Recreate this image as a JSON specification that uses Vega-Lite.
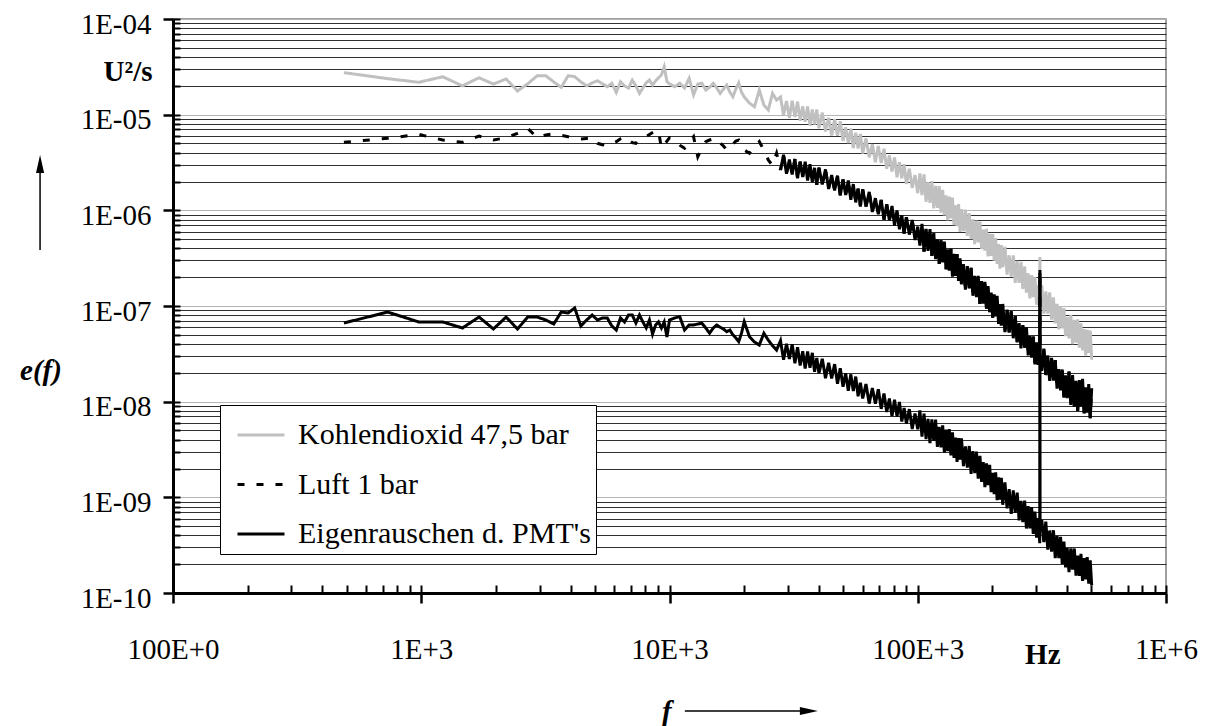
{
  "$schema": "https://vega.github.io/schema/vega-lite/v6.json",
  "width": 993,
  "height": 574,
  "autosize": {"type": "none"},
  "padding": {"left": 173, "top": 19, "right": 44, "bottom": 133},
  "background": "white",
  "config": {"font": "Liberation Serif", "view": {"stroke": "#808080", "strokeWidth": 1.5}},
  "datasets": {
    "spec": [
      {"f":488,"k":2.75e-5,"l":5.14e-6,"e":6.64e-8},
      {"f":732,"k":2.38e-5,"l":5.66e-6,"e":8.65e-8},
      {"f":977,"k":2.18e-5,"l":6.23e-6,"e":6.81e-8},
      {"f":1221,"k":2.49e-5,"l":5.43e-6,"e":6.81e-8},
      {"f":1465,"k":2.0e-5,"l":5.14e-6,"e":5.89e-8},
      {"f":1709,"k":2.43e-5,"l":5.98e-6,"e":7.67e-8},
      {"f":1953,"k":2.09e-5,"l":5.43e-6,"e":5.75e-8},
      {"f":2197,"k":2.36e-5,"l":5.74e-6,"e":7.67e-8},
      {"f":2441,"k":1.77e-5,"l":6.38e-6,"e":5.75e-8},
      {"f":2686,"k":2.1e-5,"l":7.19e-6,"e":7.67e-8},
      {"f":2930,"k":2.55e-5,"l":5.74e-6,"e":7.67e-8},
      {"f":3174,"k":2.55e-5,"l":6.13e-6,"e":7.14e-8},
      {"f":3418,"k":2.2e-5,"l":6.3e-6,"e":6.48e-8},
      {"f":3662,"k":1.93e-5,"l":6.1e-6,"e":8.65e-8},
      {"f":3906,"k":2.55e-5,"l":5.89e-6,"e":8.46e-8},
      {"f":4150,"k":2.5e-5,"l":5.7e-6,"e":9.53e-8},
      {"f":4395,"k":2.2e-5,"l":5.57e-6,"e":6.18e-8},
      {"f":4639,"k":2.0e-5,"l":5.65e-6,"e":7.14e-8},
      {"f":4883,"k":2.15e-5,"l":5.74e-6,"e":8.05e-8},
      {"f":5127,"k":2.26e-5,"l":5.02e-6,"e":7.14e-8},
      {"f":5371,"k":2.1e-5,"l":4.85e-6,"e":7.5e-8},
      {"f":5615,"k":1.96e-5,"l":4.71e-6,"e":7.5e-8},
      {"f":5859,"k":2.13e-5,"l":5.0e-6,"e":6.18e-8},
      {"f":6104,"k":1.71e-5,"l":5.22e-6,"e":5.61e-8},
      {"f":6348,"k":2.21e-5,"l":5.6e-6,"e":7.5e-8},
      {"f":6592,"k":2.0e-5,"l":5.89e-6,"e":6.81e-8},
      {"f":6836,"k":1.89e-5,"l":5.4e-6,"e":8.05e-8},
      {"f":7080,"k":2.3e-5,"l":5.1e-6,"e":8.05e-8},
      {"f":7324,"k":2.0e-5,"l":5.02e-6,"e":6.64e-8},
      {"f":7568,"k":1.67e-5,"l":5.5e-6,"e":8.05e-8},
      {"f":7813,"k":1.9e-5,"l":5.66e-6,"e":6.81e-8},
      {"f":8057,"k":2.16e-5,"l":5.9e-6,"e":5.89e-8},
      {"f":8301,"k":2.3e-5,"l":6.2e-6,"e":7.14e-8},
      {"f":8545,"k":2.04e-5,"l":6.5e-6,"e":5.09e-8},
      {"f":8789,"k":2.25e-5,"l":6.79e-6,"e":6.33e-8},
      {"f":9033,"k":2.43e-5,"l":6.79e-6,"e":6.81e-8},
      {"f":9277,"k":2.6e-5,"l":4.45e-6,"e":5.89e-8},
      {"f":9521,"k":3.17e-5,"l":4.8e-6,"e":6.81e-8},
      {"f":9766,"k":2.21e-5,"l":5.3e-6,"e":4.74e-8},
      {"f":10000,"k":2.1e-5,"l":5.74e-6,"e":7.14e-8},
      {"f":10500,"k":1.96e-5,"l":5.5e-6,"e":7.5e-8},
      {"f":11000,"k":2.13e-5,"l":4.8e-6,"e":7.73e-8},
      {"f":11500,"k":1.9e-5,"l":4.45e-6,"e":5.61e-8},
      {"f":12000,"k":2.4e-5,"l":5.2e-6,"e":6.33e-8},
      {"f":12500,"k":1.61e-5,"l":5.89e-6,"e":6.33e-8},
      {"f":13000,"k":2.09e-5,"l":3.64e-6,"e":6.48e-8},
      {"f":13500,"k":2.13e-5,"l":4.5e-6,"e":6.6e-8},
      {"f":14000,"k":1.81e-5,"l":5.22e-6,"e":5.89e-8},
      {"f":14500,"k":1.93e-5,"l":5.43e-6,"e":5.19e-8},
      {"f":15000,"k":2.13e-5,"l":5.57e-6,"e":5.89e-8},
      {"f":15500,"k":1.9e-5,"l":5.66e-6,"e":6.33e-8},
      {"f":16000,"k":1.67e-5,"l":5.05e-6,"e":6.0e-8},
      {"f":16500,"k":1.85e-5,"l":4.71e-6,"e":5.75e-8},
      {"f":17000,"k":2.04e-5,"l":4.27e-6,"e":5.39e-8},
      {"f":17500,"k":1.72e-5,"l":4.37e-6,"e":5.61e-8},
      {"f":18000,"k":1.54e-5,"l":4.9e-6,"e":5.0e-8},
      {"f":18500,"k":1.85e-5,"l":5.3e-6,"e":4.64e-8},
      {"f":19000,"k":2.15e-5,"l":5.43e-6,"e":4.24e-8},
      {"f":19500,"k":1.72e-5,"l":4.8e-6,"e":5.2e-8},
      {"f":20000,"k":1.53e-5,"l":4.27e-6,"e":6.85e-8},
      {"f":21000,"k":1.32e-5,"l":3.95e-6,"e":4.77e-8},
      {"f":22000,"k":1.21e-5,"l":4.6e-6,"e":4.2e-8},
      {"f":23000,"k":1.81e-5,"l":5.22e-6,"e":3.91e-8},
      {"f":24000,"k":1.26e-5,"l":4.27e-6,"e":5.19e-8},
      {"f":25000,"k":1.12e-5,"l":3.36e-6,"e":4.4e-8},
      {"f":26000,"k":1.67e-5,"l":2.95e-6,"e":3.85e-8},
      {"f":27000,"k":1.42e-5,"l":3.95e-6,"e":3.47e-8},
      {"f":28000,"k":1.53e-5,"l":2.64e-6,"e":4.34e-8},
      {"f":28800,"k":9.91e-6,"l":3.81e-6,"e":2.74e-8},
      {"f":29600,"k":1.39e-5,"l":2.41e-6,"e":4.02e-8},
      {"f":30400,"k":9.25e-6,"l":3.40e-6,"e":2.79e-8},
      {"f":31200,"k":1.40e-5,"l":2.37e-6,"e":3.99e-8},
      {"f":32000,"k":9.44e-6,"l":3.43e-6,"e":2.52e-8},
      {"f":32800,"k":1.37e-5,"l":2.18e-6,"e":3.71e-8},
      {"f":33600,"k":8.65e-6,"l":3.22e-6,"e":2.39e-8},
      {"f":34400,"k":1.22e-5,"l":2.23e-6,"e":3.36e-8},
      {"f":35200,"k":8.45e-6,"l":3.23e-6,"e":2.22e-8},
      {"f":36000,"k":1.22e-5,"l":2.05e-6,"e":3.34e-8},
      {"f":36800,"k":7.70e-6,"l":3.03e-6,"e":2.26e-8},
      {"f":37600,"k":1.13e-5,"l":1.97e-6,"e":3.24e-8},
      {"f":38400,"k":7.90e-6,"l":2.78e-6,"e":2.05e-8},
      {"f":39200,"k":1.13e-5,"l":1.85e-6,"e":2.87e-8},
      {"f":40000,"k":7.21e-6,"l":2.79e-6,"e":1.98e-8},
      {"f":41250,"k":1.05e-5,"l":1.88e-6,"e":2.81e-8},
      {"f":42500,"k":6.68e-6,"l":2.68e-6,"e":1.76e-8},
      {"f":43750,"k":9.26e-6,"l":1.67e-6,"e":2.55e-8},
      {"f":45000,"k":6.05e-6,"l":2.34e-6,"e":1.75e-8},
      {"f":46250,"k":8.98e-6,"l":1.61e-6,"e":2.47e-8},
      {"f":47500,"k":6.01e-6,"l":2.29e-6,"e":1.54e-8},
      {"f":48750,"k":8.52e-6,"l":1.44e-6,"e":2.24e-8},
      {"f":50000,"k":5.32e-6,"l":2.10e-6,"e":1.43e-8},
      {"f":51250,"k":7.37e-6,"l":1.45e-6,"e":1.98e-8},
      {"f":52500,"k":5.05e-6,"l":2.05e-6,"e":1.30e-8},
      {"f":53750,"k":7.15e-6,"l":1.29e-6,"e":1.93e-8},
      {"f":55000,"k":4.47e-6,"l":1.88e-6,"e":1.29e-8},
      {"f":56250,"k":6.47e-6,"l":1.21e-6,"e":1.83e-8},
      {"f":57500,"k":4.43e-6,"l":1.68e-6,"e":1.14e-8},
      {"f":58750,"k":6.28e-6,"l":1.10e-6,"e":1.58e-8},
      {"f":60000,"k":3.93e-6,"l":1.66e-6,"e":1.08e-8},
      {"f":61875,"k":5.65e-6,"l":1.10e-6,"e":1.53e-8},
      {"f":63750,"k":3.58e-6,"l":1.56e-6,"e":9.54e-9},
      {"f":65625,"k":4.92e-6,"l":9.63e-7,"e":1.39e-8},
      {"f":67500,"k":3.19e-6,"l":1.34e-6,"e":9.54e-9},
      {"f":69375,"k":4.71e-6,"l":9.09e-7,"e":1.35e-8},
      {"f":71250,"k":3.12e-6,"l":1.28e-6,"e":8.41e-9},
      {"f":73125,"k":4.40e-6,"l":7.99e-7,"e":1.22e-8},
      {"f":75000,"k":2.72e-6,"l":1.16e-6,"e":7.80e-9},
      {"f":76875,"k":3.75e-6,"l":7.86e-7,"e":1.08e-8},
      {"f":78750,"k":2.54e-6,"l":1.11e-6,"e":7.06e-9},
      {"f":80625,"k":3.57e-6,"l":6.92e-7,"e":1.05e-8},
      {"f":82500,"k":2.22e-6,"l":1.0e-6,"e":7.01e-9},
      {"f":84375,"k":3.19e-6,"l":6.35e-7,"e":9.94e-9},
      {"f":86250,"k":2.16e-6,"l":8.77e-7,"e":6.21e-9},
      {"f":88125,"k":3.04e-6,"l":5.71e-7,"e":8.60e-9},
      {"f":90000,"k":1.89e-6,"l":8.46e-7,"e":5.89e-9},
      {"f":92500,"k":2.72e-6,"l":5.61e-7,"e":8.35e-9},
      {"f":95000,"k":1.71e-6,"l":7.92e-7,"e":5.19e-9},
      {"f":97500,"k":2.34e-6,"l":4.90e-7,"e":7.52e-9},
      {"f":100000,"k":1.51e-6,"l":6.75e-7,"e":5.14e-9},
      {"f":102000,"k":2.43e-6,"l":4.29e-7,"e":8.12e-9},
      {"f":104000,"k":1.44e-6,"l":7.22e-7,"e":4.31e-9},
      {"f":106000,"k":2.38e-6,"l":3.71e-7,"e":7.49e-9},
      {"f":108000,"k":1.23e-6,"l":6.39e-7,"e":4.07e-9},
      {"f":110000,"k":1.97e-6,"l":3.77e-7,"e":6.61e-9},
      {"f":112000,"k":1.20e-6,"l":6.36e-7,"e":3.68e-9},
      {"f":114000,"k":2.02e-6,"l":3.34e-7,"e":6.53e-9},
      {"f":116000,"k":1.05e-6,"l":5.76e-7,"e":3.90e-9},
      {"f":118000,"k":1.80e-6,"l":3.09e-7,"e":6.48e-9},
      {"f":120000,"k":1.06e-6,"l":4.98e-7,"e":3.36e-9},
      {"f":122000,"k":1.79e-6,"l":2.75e-7,"e":5.45e-9},
      {"f":124000,"k":9.45e-7,"l":4.84e-7,"e":3.33e-9},
      {"f":126000,"k":1.64e-6,"l":2.85e-7,"e":5.65e-9},
      {"f":128000,"k":8.84e-7,"l":4.70e-7,"e":2.94e-9},
      {"f":130000,"k":1.43e-6,"l":2.41e-7,"e":5.09e-9},
      {"f":132000,"k":7.86e-7,"l":3.88e-7,"e":3.04e-9},
      {"f":134000,"k":1.39e-6,"l":2.35e-7,"e":5.17e-9},
      {"f":136000,"k":8.24e-7,"l":3.95e-7,"e":2.75e-9},
      {"f":138000,"k":1.36e-6,"l":2.03e-7,"e":4.77e-9},
      {"f":140000,"k":7.01e-7,"l":3.50e-7,"e":2.59e-9},
      {"f":142000,"k":1.13e-6,"l":2.06e-7,"e":4.21e-9},
      {"f":144000,"k":6.84e-7,"l":3.48e-7,"e":2.35e-9},
      {"f":146000,"k":1.16e-6,"l":1.83e-7,"e":4.16e-9},
      {"f":148000,"k":5.95e-7,"l":3.15e-7,"e":2.48e-9},
      {"f":150000,"k":1.03e-6,"l":1.69e-7,"e":4.13e-9},
      {"f":152800,"k":6.07e-7,"l":2.72e-7,"e":2.12e-9},
      {"f":155600,"k":1.02e-6,"l":1.48e-7,"e":3.40e-9},
      {"f":158400,"k":5.39e-7,"l":2.61e-7,"e":2.05e-9},
      {"f":161200,"k":9.30e-7,"l":1.53e-7,"e":3.44e-9},
      {"f":164000,"k":5.0e-7,"l":2.51e-7,"e":1.76e-9},
      {"f":166800,"k":8.04e-7,"l":1.28e-7,"e":3.04e-9},
      {"f":169600,"k":4.44e-7,"l":2.06e-7,"e":1.79e-9},
      {"f":172400,"k":7.82e-7,"l":1.24e-7,"e":3.0e-9},
      {"f":175200,"k":4.62e-7,"l":2.07e-7,"e":1.57e-9},
      {"f":178000,"k":7.61e-7,"l":1.05e-7,"e":2.72e-9},
      {"f":180800,"k":3.92e-7,"l":1.82e-7,"e":1.45e-9},
      {"f":183600,"k":6.30e-7,"l":1.06e-7,"e":2.34e-9},
      {"f":186400,"k":3.80e-7,"l":1.79e-7,"e":1.28e-9},
      {"f":189200,"k":6.40e-7,"l":9.36e-8,"e":2.27e-9},
      {"f":192000,"k":3.29e-7,"l":1.61e-7,"e":1.34e-9},
      {"f":194800,"k":5.68e-7,"l":8.60e-8,"e":2.19e-9},
      {"f":197600,"k":3.35e-7,"l":1.38e-7,"e":1.13e-9},
      {"f":200400,"k":5.65e-7,"l":7.55e-8,"e":1.80e-9},
      {"f":203200,"k":2.97e-7,"l":1.32e-7,"e":1.08e-9},
      {"f":206000,"k":5.14e-7,"l":7.77e-8,"e":1.83e-9},
      {"f":208800,"k":2.75e-7,"l":1.28e-7,"e":9.36e-10},
      {"f":211600,"k":4.44e-7,"l":6.51e-8,"e":1.62e-9},
      {"f":214400,"k":2.45e-7,"l":1.04e-7,"e":9.45e-10},
      {"f":217200,"k":4.32e-7,"l":6.26e-8,"e":1.60e-9},
      {"f":220000,"k":2.55e-7,"l":1.05e-7,"e":8.36e-10},
      {"f":224500,"k":4.16e-7,"l":5.34e-8,"e":1.43e-9},
      {"f":229000,"k":2.13e-7,"l":9.11e-8,"e":7.66e-10},
      {"f":233500,"k":3.39e-7,"l":5.30e-8,"e":1.22e-9},
      {"f":238000,"k":2.03e-7,"l":8.84e-8,"e":6.71e-10},
      {"f":242500,"k":3.39e-7,"l":4.60e-8,"e":1.18e-9},
      {"f":247000,"k":1.74e-7,"l":7.84e-8,"e":6.88e-10},
      {"f":251500,"k":2.96e-7,"l":4.17e-8,"e":1.12e-9},
      {"f":256000,"k":1.74e-7,"l":6.63e-8,"e":5.75e-10},
      {"f":260500,"k":2.90e-7,"l":3.61e-8,"e":9.20e-10},
      {"f":265000,"k":1.51e-7,"l":6.30e-8,"e":5.52e-10},
      {"f":269500,"k":2.59e-7,"l":3.68e-8,"e":9.23e-10},
      {"f":274000,"k":1.38e-7,"l":5.98e-8,"e":4.72e-10},
      {"f":278500,"k":2.20e-7,"l":3.04e-8,"e":8.07e-10},
      {"f":283000,"k":1.20e-7,"l":4.84e-8,"e":4.74e-10},
      {"f":287500,"k":2.10e-7,"l":2.89e-8,"e":7.91e-10},
      {"f":292000,"k":1.24e-7,"l":4.82e-8,"e":4.14e-10},
      {"f":296500,"k":2.01e-7,"l":2.45e-8,"e":7.08e-10},
      {"f":301000,"k":1.03e-7,"l":4.16e-8,"e":3.79e-10},
      {"f":305500,"k":1.64e-7,"l":2.43e-8,"e":6.06e-10},
      {"f":310000,"k":9.82e-8,"l":4.05e-8,"e":3.32e-10},
      {"f":310500,"k":3.25e-7,"l":2.2e-7,"e":2.38e-7},
      {"f":311000,"k":1.41e-7,"l":2.59e-8,"e":5.13e-10},
      {"f":316000,"k":1.64e-7,"l":2.10e-8,"e":5.80e-10},
      {"f":322000,"k":8.34e-8,"l":3.59e-8,"e":3.40e-10},
      {"f":328000,"k":1.42e-7,"l":1.90e-8,"e":5.56e-10},
      {"f":334000,"k":8.33e-8,"l":3.03e-8,"e":2.84e-10},
      {"f":340000,"k":1.39e-7,"l":1.65e-8,"e":4.52e-10},
      {"f":346000,"k":7.22e-8,"l":2.87e-8,"e":2.71e-10},
      {"f":352000,"k":1.23e-7,"l":1.67e-8,"e":4.53e-10},
      {"f":358000,"k":6.57e-8,"l":2.72e-8,"e":2.31e-10},
      {"f":364000,"k":1.05e-7,"l":1.37e-8,"e":3.96e-10},
      {"f":370000,"k":5.71e-8,"l":2.19e-8,"e":2.32e-10},
      {"f":376000,"k":9.97e-8,"l":1.31e-8,"e":3.87e-10},
      {"f":382000,"k":5.83e-8,"l":2.17e-8,"e":2.02e-10},
      {"f":388000,"k":9.49e-8,"l":1.10e-8,"e":3.45e-10},
      {"f":394000,"k":4.84e-8,"l":1.88e-8,"e":1.85e-10},
      {"f":400000,"k":7.70e-8,"l":1.09e-8,"e":2.95e-10},
      {"f":406800,"k":4.60e-8,"l":2.06e-8,"e":1.65e-10},
      {"f":413600,"k":8.06e-8,"l":9.27e-9,"e":2.93e-10},
      {"f":420400,"k":3.99e-8,"l":1.90e-8,"e":1.75e-10},
      {"f":427200,"k":7.17e-8,"l":8.88e-9,"e":2.92e-10},
      {"f":434000,"k":4.13e-8,"l":1.65e-8,"e":1.52e-10},
      {"f":440800,"k":7.24e-8,"l":7.99e-9,"e":2.46e-10},
      {"f":447600,"k":3.67e-8,"l":1.68e-8,"e":1.51e-10},
      {"f":454400,"k":6.60e-8,"l":8.99e-9,"e":2.56e-10},
      {"f":461200,"k":3.44e-8,"l":1.73e-8,"e":1.34e-10},
      {"f":468000,"k":5.72e-8,"l":7.56e-9,"e":2.32e-10},
      {"f":474800,"k":3.05e-8,"l":1.41e-8,"e":1.39e-10},
      {"f":481600,"k":5.63e-8,"l":7.72e-9,"e":2.37e-10},
      {"f":488400,"k":3.24e-8,"l":1.53e-8,"e":1.25e-10},
      {"f":495200,"k":5.54e-8,"l":6.71e-9,"e":2.20e-10},
      {"f":502000,"k":2.74e-8,"l":1.38e-8,"e":1.20e-10}
    ]
  },
  "layer": [
    {
      "data": {"name": "spec"},
      "transform": [{"fold": ["k", "l", "e"], "as": ["series", "val"]}],
      "mark": {"type": "line", "strokeWidth": 3, "strokeCap": "butt"},
      "encoding": {
        "x": {
          "field": "f", "type": "quantitative",
          "scale": {"type": "log", "domain": [100, 1000000], "nice": false},
          "axis": {
            "orient": "bottom", "title": null,
            "values": [100, 1000, 10000, 100000, 1000000],
            "labelExpr": "datum.value < 500 ? '100E+0' : datum.value < 5000 ? '1E+3' : datum.value < 50000 ? '10E+3' : datum.value < 500000 ? '100E+3' : '1E+6'",
            "tickSize": 10, "tickWidth": 2.5, "tickColor": "black",
            "domainColor": "black", "domainWidth": 3,
            "labelFont": "Liberation Serif", "labelFontSize": 29, "labelColor": "black",
            "labelPadding": 46, "labelBaseline": "middle",
            "labelFlush": false, "labelOverlap": false, "grid": false
          }
        },
        "y": {
          "field": "val", "type": "quantitative",
          "scale": {"type": "log", "domain": [1e-10, 1e-4], "nice": false},
          "axis": {
            "orient": "left", "title": null,
            "values": [1e-10, 1e-9, 1e-8, 1e-7, 1e-6, 1e-5, 1e-4],
            "labelExpr": "'1E-' + format(-round(log(datum.value)/LN10), '02d')",
            "tickSize": 10, "tickWidth": 2.5, "tickColor": "black",
            "domainColor": "black", "domainWidth": 3,
            "labelFont": "Liberation Serif", "labelFontSize": 29, "labelColor": "black",
            "labelPadding": 12, "labelOffset": 5,
            "labelFlush": false, "labelOverlap": false, "grid": false
          }
        },
        "color": {
          "field": "series", "type": "nominal",
          "scale": {"domain": ["k", "l", "e"], "range": ["#c0c0c0", "#000000", "#000000"]},
          "legend": {
            "title": null, "orient": "none", "legendX": 47, "legendY": 386,
            "symbolType": "stroke", "symbolSize": 2209, "symbolStrokeWidth": 3,
            "symbolOffset": 11, "labelOffset": 12,
            "labelFont": "Liberation Serif", "labelFontSize": 30, "labelColor": "black", "labelLimit": 0,
            "fillColor": "white", "strokeColor": "black", "padding": 5, "rowPadding": 9.5,
            "labelExpr": "datum.label == 'k' ? 'Kohlendioxid 47,5 bar' : datum.label == 'l' ? 'Luft 1 bar' : \"Eigenrauschen d. PMT's\""
          }
        },
        "strokeDash": {
          "field": "series", "type": "nominal",
          "scale": {"domain": ["k", "l", "e"], "range": [[1, 0], [7, 12], [1, 0]]},
          "legend": {
            "title": null, "orient": "none", "legendX": 47, "legendY": 386,
            "symbolType": "stroke", "symbolSize": 2209, "symbolStrokeWidth": 3,
            "symbolOffset": 11, "labelOffset": 12,
            "labelFont": "Liberation Serif", "labelFontSize": 30, "labelColor": "black", "labelLimit": 0,
            "fillColor": "white", "strokeColor": "black", "padding": 5, "rowPadding": 9.5,
            "labelExpr": "datum.label == 'k' ? 'Kohlendioxid 47,5 bar' : datum.label == 'l' ? 'Luft 1 bar' : \"Eigenrauschen d. PMT's\""
          }
        }
      }
    },
    {
      "data": {"name": "spec"},
      "transform": [{"filter": "datum.f >= 28000"}],
      "mark": {"type": "line", "strokeWidth": 3, "strokeCap": "butt", "color": "black"},
      "encoding": {
        "x": {"field": "f", "type": "quantitative", "axis": null,
          "scale": {"type": "log", "domain": [100, 1000000], "nice": false}},
        "y": {"field": "l", "type": "quantitative", "axis": null,
          "scale": {"type": "log", "domain": [1e-10, 1e-4], "nice": false}}
      }
    },
    {
      "data": {"values": [
        {"f": 319000, "e": 2.25e-11, "t": "Hz"},
        {"f": 65.9, "e": 2.79e-5, "t": "U²/s"}
      ]},
      "mark": {"type": "text", "font": "Liberation Serif", "fontSize": 29, "fontWeight": "bold", "align": "center", "baseline": "middle", "color": "black"},
      "encoding": {
        "x": {
          "field": "f", "type": "quantitative",
          "scale": {"type": "log", "domain": [100, 1000000], "nice": false},
          "axis": {
            "orient": "bottom", "title": null, "labels": false, "domain": false, "grid": false,
            "values": [100,200,300,400,500,600,700,800,900,1000,2000,3000,4000,5000,6000,7000,8000,9000,10000,20000,30000,40000,50000,60000,70000,80000,90000,100000,200000,300000,400000,500000,600000,700000,800000,900000,1000000],
            "tickSize": -8, "tickWidth": 2, "tickColor": "black"
          }
        },
        "y": {
          "field": "e", "type": "quantitative",
          "scale": {"type": "log", "domain": [1e-10, 1e-4], "nice": false},
          "axis": {
            "orient": "left", "title": null, "labels": false, "domain": false,
            "values": [1e-10,2e-10,3e-10,4e-10,5e-10,6e-10,7e-10,8e-10,9e-10,1e-9,2e-9,3e-9,4e-9,5e-9,6e-9,7e-9,8e-9,9e-9,1e-8,2e-8,3e-8,4e-8,5e-8,6e-8,7e-8,8e-8,9e-8,1e-7,2e-7,3e-7,4e-7,5e-7,6e-7,7e-7,8e-7,9e-7,1e-6,2e-6,3e-6,4e-6,5e-6,6e-6,7e-6,8e-6,9e-6,1e-5,2e-5,3e-5,4e-5,5e-5,6e-5,7e-5,8e-5,9e-5,1e-4],
            "tickSize": -7, "tickWidth": 2, "tickColor": "black",
            "grid": true, "gridWidth": 1,
            "gridColor": {"condition": {"test": "abs(log(datum.value)/LN10 - round(log(datum.value)/LN10)) < 0.01", "value": "#b4b4b4"}, "value": "#303030"}
          }
        },
        "text": {"field": "t", "type": "nominal"}
      }
    },
    {
      "data": {"values": [
        {"f": 29.4, "e": 2.09e-8, "t": "e(f)"},
        {"f": 9760, "e": 5.7e-12, "t": "f"}
      ]},
      "mark": {"type": "text", "font": "Liberation Serif", "fontSize": 29, "fontWeight": "bold", "fontStyle": "italic", "align": "center", "baseline": "middle", "color": "black"},
      "encoding": {
        "x": {"field": "f", "type": "quantitative", "axis": null},
        "y": {"field": "e", "type": "quantitative", "axis": null},
        "text": {"field": "t", "type": "nominal"}
      }
    },
    {
      "data": {"values": [
        {"f1": 29.14, "f2": 29.14, "e1": 3.85e-7, "e2": 2.64e-6},
        {"f1": 11530, "f2": 35100, "e1": 5.85e-12, "e2": 5.85e-12}
      ]},
      "mark": {"type": "rule", "color": "black", "strokeWidth": 1.5},
      "encoding": {
        "x": {"field": "f1", "type": "quantitative", "axis": null},
        "x2": {"field": "f2"},
        "y": {"field": "e1", "type": "quantitative", "axis": null},
        "y2": {"field": "e2"}
      }
    },
    {
      "data": {"values": [
        {"f": 29.14, "e": 3.05e-6, "d": "up"},
        {"f": 36420, "e": 5.85e-12, "d": "right"}
      ]},
      "mark": {"type": "point", "filled": true, "color": "black", "size": 324, "opacity": 1},
      "encoding": {
        "x": {"field": "f", "type": "quantitative", "axis": null},
        "y": {"field": "e", "type": "quantitative", "axis": null},
        "shape": {"field": "d", "type": "nominal", "legend": null,
          "scale": {"domain": ["up", "right"], "range": ["M0,-1L0.45,1L-0.45,1Z", "M1,0L-1,-0.45L-1,0.45Z"]}}
      }
    }
  ],
  "resolve": {"axis": {"x": "independent", "y": "independent"}}
}
